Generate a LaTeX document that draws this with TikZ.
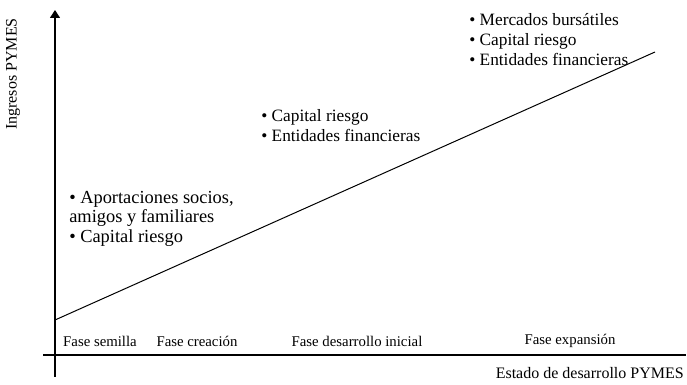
\documentclass[tikz,border=0pt]{standalone}
\usepackage{fontspec}
\setmainfont{Liberation Serif}
\usetikzlibrary{arrows.meta}
\begin{document}
\begin{tikzpicture}[x=0.75pt,y=-0.75pt,
  axisline/.style={line width=0.9pt},
  trendline/.style={line width=0.75pt},
  phase/.style={font=\fontsize{11.1}{13}\selectfont, inner sep=0pt},
  axislabel/.style={font=\fontsize{12}{14}\selectfont, inner sep=0pt},
  group/.style={font=\fontsize{13}{15}\selectfont, align=left, anchor=west, inner sep=0pt},
  biggroup/.style={group, font=\fontsize{13.8}{14.7}\selectfont}]
\useasboundingbox (0,0) rectangle (687,385);
% axes
\coordinate (ybot) at (55,377);
\coordinate (ytop) at (55,10);
\coordinate (xleft) at (43,355);
\coordinate (xright) at (686,355);
\draw[axisline,-{Triangle[width=7.5pt,length=6pt]}] (ybot) -- (ytop);
\draw[axisline] (xleft) -- (xright);
% trend line
\coordinate (tstart) at (55,320);
\coordinate (tend) at (655,52);
\draw[trendline] (tstart) -- (tend);
% axis labels
\node[axislabel, rotate=90] (ylab) at (13,74) {Ingresos PYMES};
\node[axislabel, anchor=east] (xlab) at (684,373) {Estado de desarrollo PYMES};
% phases
\node[phase] (p1) at (100,341) {Fase semilla};
\node[phase] (p2) at (197,341) {Fase creación};
\node[phase] (p3) at (357,341) {Fase desarrollo inicial};
\node[phase] (p4) at (570,341) {Fase expansión};
% groups
\node[biggroup] (g1) at (69,218.5) {• Aportaciones socios,\\amigos y familiares\\• Capital riesgo};
\node[group] (g2) at (261,126) {• Capital riesgo\\• Entidades financieras};
\node[group] (g3) at (469,40) {• Mercados bursátiles\\• Capital riesgo\\• Entidades financieras};
\end{tikzpicture}
\end{document}
